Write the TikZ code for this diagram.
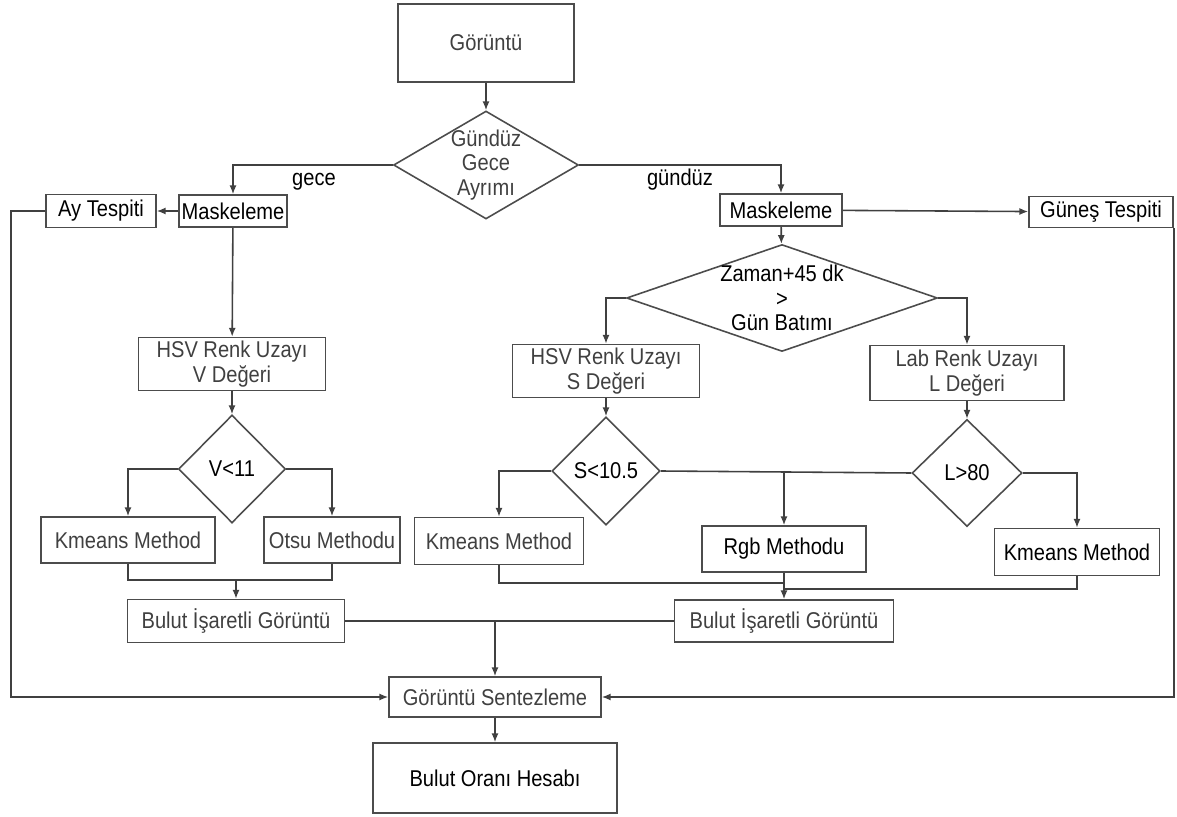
\documentclass[tikz,border=0pt]{standalone}
\usepackage{fontspec}
\setmainfont{Liberation Sans}[FakeStretch=0.88]
\usetikzlibrary{shapes, arrows.meta, positioning}

\begin{document}
\begin{tikzpicture}[x=0.02cm, y=-0.02cm,
    every node/.style={font=\fontsize{13}{14}\selectfont},
    kutu/.style={draw=black!70, line width=0.9pt, rectangle, inner sep=1pt, text=black!75, align=center},
    karar/.style={draw=black!70, line width=0.9pt, diamond, inner sep=0pt},
    ok/.style={draw=black!75, line width=0.9pt, -{Latex[length=5pt,width=4pt]}},
    hat/.style={draw=black!75, line width=0.9pt}]
  \useasboundingbox (0,0) rectangle (1177,817);

  % ust kisim
  \node[kutu, minimum width=3.52cm, minimum height=1.56cm] (goruntu) at (486,43) {Görüntü};
  \node[karar, minimum width=3.7cm, minimum height=2.16cm,
        label={[align=center,text=black!75]center:Gündüz\\Gece\\Ayrımı}] (ayrim) at (486,165) {};
  \node[kutu, text=black, minimum width=2.16cm, minimum height=0.64cm] (maskG) at (233,211) {Maskeleme};
  \node[kutu, text=black, minimum width=2.2cm, minimum height=0.66cm] (ay) at (101,211) {Ay Tespiti};
  \node[kutu, text=black, minimum width=2.44cm, minimum height=0.64cm] (maskS) at (781,210) {Maskeleme};
  \node[kutu, text=black, minimum width=2.88cm, minimum height=0.62cm] (gunes) at (1101,212) {Güneş Tespiti};
  \node[text=black] (gece) at (314,182) {gece};
  \node[text=black] (gunduz) at (680,180) {gündüz};

  % gece kolu
  \node[kutu, minimum width=3.74cm, minimum height=1.06cm] (hsvV) at (232,364) {HSV Renk Uzayı\\V Değeri};
  \node[karar, minimum width=2.14cm, minimum height=2.16cm, label={[text=black]center:V<11}] (vkarar) at (232,469) {};
  \node[kutu, minimum width=3.48cm, minimum height=0.92cm] (kmG) at (128,540) {Kmeans Method};
  \node[kutu, minimum width=2.72cm, minimum height=0.92cm] (otsu) at (332,540) {Otsu Methodu};
  \node[kutu, minimum width=4.34cm, minimum height=0.86cm] (bulutG) at (236,621) {Bulut İşaretli Görüntü};

  % gunduz kolu
  \node[karar, minimum width=6.22cm, minimum height=2.14cm,
        label={[align=center,text=black]center:Zaman+45 dk\\>\\Gün Batımı}] (zaman) at (782,298) {};
  \node[kutu, minimum width=3.74cm, minimum height=1.06cm] (hsvS) at (606,371) {HSV Renk Uzayı\\S Değeri};
  \node[kutu, minimum width=3.88cm, minimum height=1.1cm] (lab) at (967,373) {Lab Renk Uzayı\\L Değeri};
  \node[karar, minimum width=2.16cm, minimum height=2.16cm, label={[text=black]center:S<10.5}] (skarar) at (606,471) {};
  \node[karar, minimum width=2.2cm, minimum height=2.14cm, label={[text=black]center:L>80}] (lkarar) at (967,473) {};
  \node[kutu, minimum width=3.38cm, minimum height=0.94cm] (kmS) at (499,541) {Kmeans Method};
  \node[kutu, text=black, minimum width=3.28cm, minimum height=0.92cm] (rgb) at (784,549) {Rgb Methodu};
  \node[kutu, text=black, minimum width=3.3cm, minimum height=0.94cm] (kmL) at (1077,552) {Kmeans Method};
  \node[kutu, minimum width=4.38cm, minimum height=0.84cm] (bulutS) at (784,621) {Bulut İşaretli Görüntü};

  % alt kisim
  \node[kutu, minimum width=4.24cm, minimum height=0.8cm] (sentez) at (495,697) {Görüntü Sentezleme};
  \node[kutu, text=black, minimum width=4.88cm, minimum height=1.4cm] (oran) at (495,778) {Bulut Oranı Hesabı};

  \coordinate (solK) at (11,211);
  \coordinate (birG) at (236,580);
  \coordinate (birS1) at (784,583);
  \coordinate (birS2) at (784,589);
  \coordinate (birles) at (495,621);
  \coordinate (ayrac) at (skarar.east -| rgb.north);

  % baglantilar
  \draw[ok] (goruntu) -- (ayrim);
  \draw[ok] (ayrim.west) -| (maskG);
  \draw[ok] (ayrim.east) -| (maskS);
  \draw[ok] (maskG) -- (ay);
  \draw[ok] (maskS) -- (gunes);
  \draw[ok] (maskG) -- (hsvV);
  \draw[ok] (maskS) -- (zaman);
  \draw[ok] (hsvV) -- (vkarar);
  \draw[ok] (vkarar.west) -| (kmG);
  \draw[ok] (vkarar.east) -| (otsu);
  \draw[hat] (kmG) |- (birG) -| (otsu);
  \draw[ok] (birG) -- (bulutG);
  \draw[ok] (zaman.west) -| (hsvS);
  \draw[ok] (zaman.east) -| (lab);
  \draw[ok] (hsvS) -- (skarar);
  \draw[ok] (lab) -- (lkarar);
  \draw[ok] (skarar.west) -| (kmS);
  \draw[hat] (skarar.east) -- (lkarar.west);
  \draw[ok] (ayrac) -- (rgb);
  \draw[ok] (lkarar.east) -| (kmL);
  \draw[hat] (kmS) |- (birS1);
  \draw[hat] (kmL) |- (birS2);
  \draw[ok] (rgb) -- (bulutS);
  \draw[hat] (bulutG) -- (birles) -- (bulutS);
  \draw[ok] (birles) -- (sentez);
  \draw[ok] (ay.west) -- (solK) |- (sentez.west);
  \draw[ok] (gunes.south east) |- (sentez.east);
  \draw[ok] (sentez) -- (oran);
\end{tikzpicture}
\end{document}
